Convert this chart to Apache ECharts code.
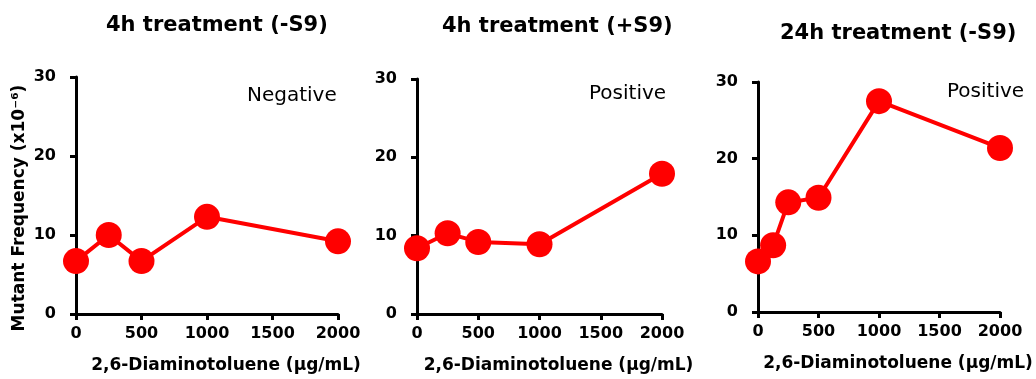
<!DOCTYPE html>
<html>
<head>
<meta charset="utf-8">
<script src="https://cdn.jsdelivr.net/npm/echarts@6/dist/echarts.min.js"></script>
<style>
  html, body { margin: 0; padding: 0; background: #fff; }
  #chart { width: 1036px; height: 379px; }
</style>
</head>
<body>
<div id="chart"></div>
<script>
// data
const doses1 = [0, 250, 500, 1000, 2000]
const freq1 = [6.7, 10.0, 6.7, 12.3, 9.2]
const doses2 = [0, 250, 500, 1000, 2000]
const freq2 = [8.4, 10.3, 9.2, 8.9, 17.9]
const doses3 = [0, 125, 250, 500, 1000, 2000]
const freq3 = [6.6, 8.7, 14.3, 14.9, 27.5, 21.4]

const titles = ['4h treatment (-S9)', '4h treatment (+S9)', '24h treatment (-S9)']
const calls = ['Negative', 'Positive', 'Positive']
const xTicks = [0, 500, 1000, 1500, 2000]
const yTicks = [0, 10, 20, 30]
const xName = '2,6-Diaminotoluene (µg/mL)'
const yName = 'Mutant Frequency (x10⁻⁶)'

const ff = 'DejaVu Sans'
const red = '#ff0000'

const grids = [
  {left: 76, top: 77, right: 698, bottom: 64},
  {left: 417, top: 79, right: 374, bottom: 64},
  {left: 758, top: 82, right: 36, bottom: 67}
]
// where the panel texts sit
const titlePos = [[106, 26], [442, 27], [780, 34]]
const callPos = [[247, 96], [589, 94], [947, 92]]

const chart = echarts.init(document.getElementById('chart'))

const axisCommon = {
  axisLine: {lineStyle: {color: '#000', width: 3}},
  axisTick: {length: 6, lineStyle: {color: '#000', width: 3}},
  splitLine: {show: false},
  axisLabel: {color: '#000', fontFamily: ff, fontWeight: 'bold', fontSize: 16, formatter: v => String(v)}
}

const xAxes = grids.map((g, i) => ({
  ...axisCommon,
  type: 'value',
  gridIndex: i,
  min: xTicks[0],
  max: xTicks[xTicks.length - 1],
  interval: xTicks[1] - xTicks[0],
  axisLabel: {...axisCommon.axisLabel, margin: 12},
  name: xName,
  nameLocation: 'middle',
  nameGap: 43,
  nameTextStyle: {color: '#000', fontFamily: ff, fontWeight: 'bold', fontSize: 17, padding: [0, 0, 0, 38]}
}))

const yAxes = grids.map((g, i) => ({
  ...axisCommon,
  type: 'value',
  gridIndex: i,
  min: yTicks[0],
  max: yTicks[yTicks.length - 1],
  interval: yTicks[1] - yTicks[0],
  axisLabel: {...axisCommon.axisLabel, margin: 20}
}))

const sets = [[doses1, freq1], [doses2, freq2], [doses3, freq3]]
const series = sets.map(([d, f], i) => ({
  type: 'line',
  xAxisIndex: i,
  yAxisIndex: i,
  data: d.map((x, k) => [x, f[k]]),
  symbol: 'circle',
  symbolSize: 26,
  itemStyle: {color: red},
  lineStyle: {color: red, width: 4},
  animation: false
}))

const graphic = []
titles.forEach((t, i) => {
  graphic.push({
    type: 'text', x: titlePos[i][0], y: titlePos[i][1],
    style: {text: t, font: 'bold 21px "' + ff + '"', fill: '#000', verticalAlign: 'middle'}
  })
})
calls.forEach((t, i) => {
  graphic.push({
    type: 'text', x: callPos[i][0], y: callPos[i][1],
    style: {text: t, font: '20px "' + ff + '"', fill: '#000', verticalAlign: 'middle'}
  })
})
graphic.push({
  type: 'text', x: 20, y: 208, rotation: Math.PI / 2,
  style: {text: yName, font: 'bold 17px "' + ff + '"', fill: '#000', align: 'center', verticalAlign: 'middle'}
})

chart.setOption({
  animation: false,
  grid: grids,
  xAxis: xAxes,
  yAxis: yAxes,
  series: series,
  graphic: graphic
})
</script>
</body>
</html>
